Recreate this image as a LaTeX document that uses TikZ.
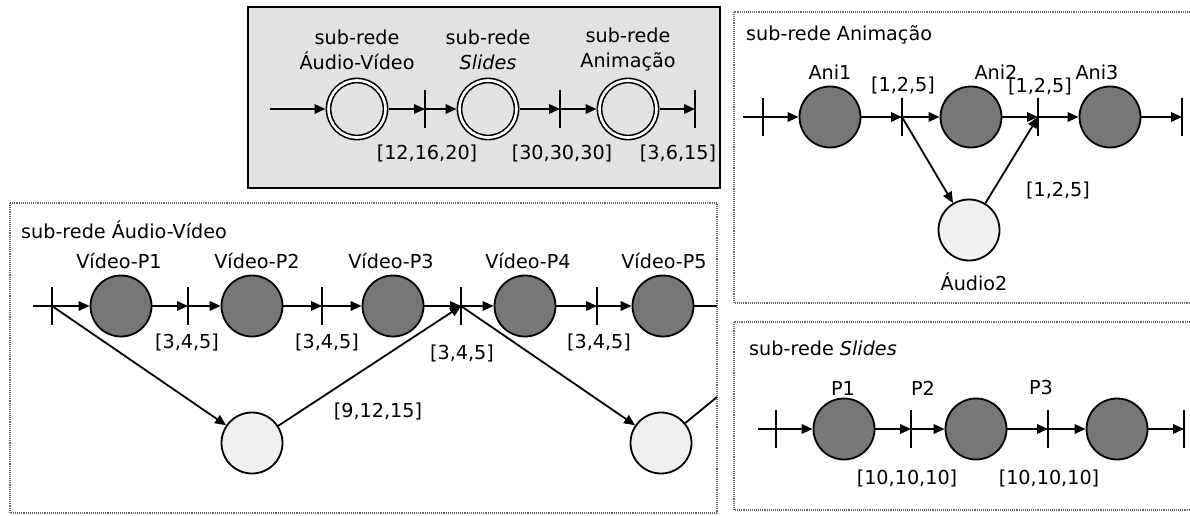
\documentclass[tikz,border=0pt]{standalone}
\usepackage{fontspec}
\setmainfont{DejaVu Sans}
\usetikzlibrary{arrows.meta}
\definecolor{darkfill}{HTML}{777777}
\definecolor{lightfill}{HTML}{F0F0F0}
\definecolor{boxfill}{HTML}{E2E2E2}
\definecolor{framegray}{HTML}{6A6A6A}
\tikzset{
  txt/.style={font=\fontsize{19.2}{25}\selectfont, inner sep=0pt, align=center},
  place/.style={circle, draw, line width=1.8pt, minimum size=61pt, inner sep=0pt},
  darkplace/.style={place, fill=darkfill},
  lightplace/.style={place, fill=lightfill},
  subnet/.style={circle, draw, line width=1.6pt, double=white, double distance=2.6pt,
    fill=boxfill, minimum size=57pt, inner sep=0pt, outer sep=3pt},
  arr/.style={line width=1.8pt, -{Triangle[length=11pt,width=9.5pt]}},
  plain/.style={line width=1.8pt},
  tbar/.style={line width=1.8pt},
  frame/.style={draw=framegray, line width=1.1pt, densely dotted},
}
\begin{document}
\begin{tikzpicture}[x=1pt, y=-1pt]
\useasboundingbox (0,0) rectangle (1190,516);

% ---------- main net: three sub-nets in sequence ----------
\draw[fill=boxfill, line width=1.8pt] (248,7) rectangle (720,188);
\coordinate (ts) at (270,109);
\node[subnet] (c1) at (357,109) {};
\node[subnet] (c2) at (488,109) {};
\node[subnet] (c3) at (628,109) {};
\coordinate (t1) at (425,109);
\coordinate (t2) at (560,109);
\coordinate (t3) at (695,109);
\foreach \b in {t1,t2,t3} \draw[tbar] (\b) ++(0,-19) -- ++(0,38);
\draw[arr] (ts) -- (c1);
\draw[arr] (c1) -- (t1);
\draw[arr] (t1) -- (c2);
\draw[arr] (c2) -- (t2);
\draw[arr] (t2) -- (c3);
\draw[arr] (c3) -- (t3);
\node[txt] (lc1) at (357,50) {sub-rede\\Áudio-Vídeo};
\node[txt] (lc2) at (488,50) {sub-rede\\\textit{Slides}};
\node[txt] (lc3) at (628,50) {sub-rede\\Animação};
\node[txt] (lt1) at (427,153) {[12,16,20]};
\node[txt] (lt2) at (562,153) {[30,30,30]};
\node[txt] (lt3) at (678,153) {[3,6,15]};

% ---------- sub-net Audio-Video ----------
\draw[frame] (10,203) rectangle (717,513);
\node[txt, anchor=west] (avtitle) at (21,230) {sub-rede Áudio-Vídeo};
\coordinate (avs) at (33,306);
\coordinate (av0) at (52,306);
\coordinate (av1) at (188,306);
\coordinate (av2) at (322,306);
\coordinate (av3) at (461,306);
\coordinate (av4) at (597,306);
\coordinate (avend) at (717,306);
\coordinate (avexit) at (717,397);
\node[darkplace] (v1) at (121,306) {};
\node[darkplace] (v2) at (252,306) {};
\node[darkplace] (v3) at (393,306) {};
\node[darkplace] (v4) at (525,306) {};
\node[darkplace] (v5) at (663,306) {};
\node[lightplace] (a1) at (252,443) {};
\node[lightplace] (a2) at (661,443) {};
\foreach \b in {av0,av1,av2,av3,av4} \draw[tbar] (\b) ++(0,-19) -- ++(0,38);
\draw[arr] (avs) -- (v1);
\draw[arr] (v1) -- (av1);
\draw[arr] (av1) -- (v2);
\draw[arr] (v2) -- (av2);
\draw[arr] (av2) -- (v3);
\draw[arr] (v3) -- (av3);
\draw[arr] (av3) -- (v4);
\draw[arr] (v4) -- (av4);
\draw[arr] (av4) -- (v5);
\draw[plain] (v5) -- (avend);
\draw[arr] (av0) -- (a1);
\draw[arr] (a1) -- (av3);
\draw[arr] (av3) -- (a2);
\draw[plain] (a2) -- (avexit);
\node[txt] (lv1) at (119,261) {Vídeo-P1};
\node[txt] (lv2) at (257,261) {Vídeo-P2};
\node[txt] (lv3) at (391,261) {Vídeo-P3};
\node[txt] (lv4) at (528,261) {Vídeo-P4};
\node[txt] (lv5) at (664,261) {Vídeo-P5};
\node[txt] (lav1) at (187,342) {[3,4,5]};
\node[txt] (lav2) at (327,342) {[3,4,5]};
\node[txt] (lav3) at (462,353) {[3,4,5]};
\node[txt] (lav4) at (599,342) {[3,4,5]};
\node[txt] (laud) at (378,411) {[9,12,15]};

% ---------- sub-net Animacao ----------
\draw[frame] (734,12) rectangle (1196,303);
\node[txt, anchor=west] (antitle) at (746,35) {sub-rede Animação};
\coordinate (ans) at (743,117);
\coordinate (an0) at (763,117);
\coordinate (an1) at (902,117);
\coordinate (an2) at (1038,117);
\coordinate (an3) at (1182,117);
\node[darkplace] (ani1) at (830,117) {};
\node[darkplace] (ani2) at (971,117) {};
\node[darkplace] (ani3) at (1110,117) {};
\node[lightplace] (aud2) at (969,230) {};
\foreach \b in {an0,an1,an2,an3} \draw[tbar] (\b) ++(0,-19) -- ++(0,38);
\draw[arr] (ans) -- (ani1);
\draw[arr] (ani1) -- (an1);
\draw[arr] (an1) -- (ani2);
\draw[arr] (ani2) -- (an2);
\draw[arr] (an2) -- (ani3);
\draw[arr] (ani3) -- (an3);
\draw[arr] (an1) -- (aud2);
\draw[arr] (aud2) -- (an2);
\node[txt] (lani1) at (830,72) {Ani1};
\node[txt] (lani2) at (996,72) {Ani2};
\node[txt] (lani3) at (1097,72) {Ani3};
\node[txt] (lan1) at (903,85) {[1,2,5]};
\node[txt] (lan2) at (1040,86) {[1,2,5]};
\node[txt] (lan3) at (1058,190) {[1,2,5]};
\node[txt] (laud2) at (974,282) {Áudio2};

% ---------- sub-net Slides ----------
\draw[frame] (734,322) rectangle (1196,510);
\node[txt, anchor=west] (sltitle) at (749,348) {sub-rede \textit{Slides}};
\coordinate (sls) at (758,429);
\coordinate (sl0) at (776,429);
\coordinate (sl1) at (911,429);
\coordinate (sl2) at (1048,429);
\coordinate (sl3) at (1184,429);
\node[darkplace] (p1) at (844,429) {};
\node[darkplace] (p2) at (976,429) {};
\node[darkplace] (p3) at (1117,429) {};
\foreach \b in {sl0,sl1,sl2,sl3} \draw[tbar] (\b) ++(0,-19) -- ++(0,38);
\draw[arr] (sls) -- (p1);
\draw[arr] (p1) -- (sl1);
\draw[arr] (sl1) -- (p2);
\draw[arr] (p2) -- (sl2);
\draw[arr] (sl2) -- (p3);
\draw[arr] (p3) -- (sl3);
\node[txt] (lp1) at (843,388) {P1};
\node[txt] (lp2) at (923,388) {P2};
\node[txt] (lp3) at (1041,388) {P3};
\node[txt] (lsl1) at (907,478) {[10,10,10]};
\node[txt] (lsl2) at (1049,478) {[10,10,10]};
\end{tikzpicture}
\end{document}
